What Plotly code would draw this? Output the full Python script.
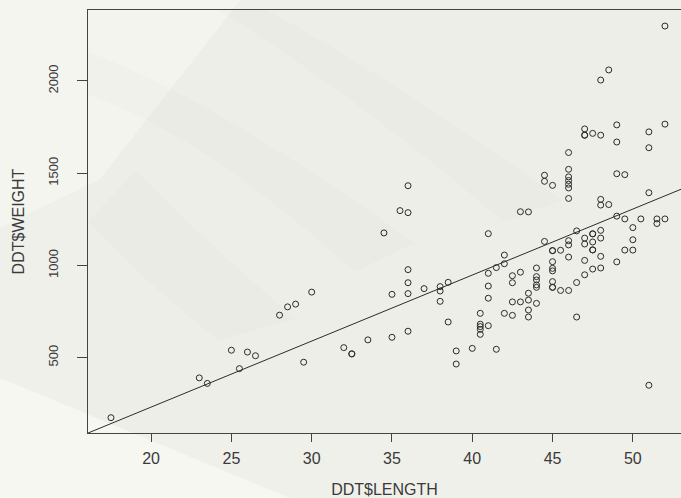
import plotly.graph_objects as go

# DDT fish sample: LENGTH (cm) vs WEIGHT (g)
length = [
    17.5, 23, 23.5, 25, 25.5, 26, 26.5, 28, 28.5, 29, 29.5, 30,
    32, 32.5, 32.5, 33.5, 34.5, 35, 35, 35.5, 36, 36, 36, 36, 36, 36,
    37, 38, 38, 38, 38.5, 38.5, 39, 39, 40,
    40.5, 40.5, 40.5, 40.5, 40.5, 41, 41, 41, 41, 41, 41.5, 41.5,
    42, 42, 42, 42.5, 42.5, 42.5, 42.5, 43, 43, 43, 43.5, 43.5, 43.5, 43.5, 43.5,
    44, 44, 44, 44, 44, 44, 44.5, 44.5, 44.5,
    45, 45, 45, 45, 45, 45, 45, 45, 45, 45.5, 45.5,
    46, 46, 46, 46, 46, 46, 46, 46, 46, 46, 46, 46.5, 46.5, 46.5,
    47, 47, 47, 47, 47, 47, 47, 47.5, 47.5, 47.5, 47.5, 47.5, 47.5, 47.5,
    48, 48, 48, 48, 48, 48, 48, 48, 48.5, 48.5,
    49, 49, 49, 49, 49, 49.5, 49.5, 49.5, 50, 50, 50, 50.5,
    51, 51, 51, 51, 51.5, 51.5, 52, 52, 52,
]
weight = [
    174, 390, 360, 540, 440, 530, 510, 730, 775, 790, 475, 855,
    554, 520, 520, 596, 1176, 610, 843, 1297, 1432, 1286, 977, 906, 847, 643,
    874, 885, 861, 805, 908, 693, 536, 465, 550,
    740, 681, 668, 653, 626, 673, 822, 888, 957, 1172, 988, 545,
    1009, 1056, 740, 944, 906, 802, 729, 963, 802, 1291, 1290, 849, 812, 758, 720,
    986, 939, 921, 894, 881, 794, 1489, 1456, 1130,
    1434, 1080, 1080, 1020, 984, 970, 912, 881, 881, 1082, 864,
    1612, 1521, 1480, 1460, 1440, 1420, 1363, 1134, 1111, 1045, 864, 1187, 907, 720,
    1740, 1706, 1706, 1148, 1116, 1027, 949, 1716, 1171, 1171, 1127, 1084, 1084, 980,
    2005, 1706, 1358, 1327, 1190, 1148, 1049, 986, 2060, 1330,
    1762, 1669, 1497, 1267, 1019, 1492, 1252, 1083, 1205, 1139, 1083, 1252,
    1724, 1638, 1394, 350, 1252, 1227, 2298, 1766, 1252,
]

# least-squares line WEIGHT ~ LENGTH
fit_intercept = -484.5
fit_slope = 35.8

x_range = [16.07, 53.0]
y_range = [91, 2385]
x_ticks = [20, 25, 30, 35, 40, 45, 50]
y_ticks = [500, 1000, 1500, 2000]

ink = "#2b2b2b"
text_col = "#3a3a3a"

fig = go.Figure()

fig.add_trace(go.Scatter(
    x=x_range,
    y=[fit_intercept + fit_slope * v for v in x_range],
    mode="lines",
    line=dict(color=ink, width=1),
    hoverinfo="skip",
))

fig.add_trace(go.Scatter(
    x=length, y=weight,
    mode="markers",
    marker=dict(symbol="circle-open", size=6, color=ink, line=dict(width=1, color=ink)),
))

# soft paper-like background tones
bg_shapes = [
    # lighter lower-left corner
    dict(path="M -0.2,0.16 L 0.42,-0.2 L -0.2,-0.2 Z", fillcolor="rgba(250,250,245,0.7)"),
    # lighter upper-left strip
    dict(path="M -0.2,1.1 L 0.3,1.1 L 0.02,0.6 L -0.2,0.45 Z", fillcolor="rgba(250,250,245,0.5)"),
    # faint darker streaks
    dict(path="M 0.0,0.9 Q 0.2,0.8 0.55,0.45 L 0.45,0.38 Q 0.2,0.7 0.0,0.8 Z", fillcolor="rgba(190,190,182,0.05)"),
    dict(path="M 0.3,1.0 Q 0.5,0.85 0.8,0.55 L 0.7,0.5 Q 0.45,0.8 0.22,1.0 Z", fillcolor="rgba(190,190,182,0.04)"),
    dict(path="M 0.0,0.5 Q 0.1,0.35 0.22,0.22 L 0.35,0.27 Q 0.2,0.45 0.08,0.62 Z", fillcolor="rgba(190,190,182,0.05)"),
]
shapes = []
for s in bg_shapes:
    shapes.append(dict(type="path", xref="paper", yref="paper", layer="below",
                       line=dict(width=0), **s))

fig.update_layout(
    width=681, height=498,
    margin=dict(l=88, r=0, t=10, b=65),
    paper_bgcolor="#f0f0eb",
    plot_bgcolor="rgba(236,236,231,0.6)",
    showlegend=False,
    shapes=shapes,
    font=dict(family="Liberation Sans, Arial, sans-serif", color=text_col),
    xaxis=dict(
        range=x_range, tickvals=x_ticks, showgrid=False, zeroline=False,
        showline=True, linecolor="#444", linewidth=1, mirror=True,
        ticks="outside", ticklen=8, tickcolor="#444", ticklabelstandoff=3,
        tickfont=dict(size=16, color=text_col),
        title=dict(text="DDT$LENGTH", font=dict(size=16, color=text_col), standoff=20),
    ),
    yaxis=dict(
        range=y_range, tickvals=y_ticks, showgrid=False, zeroline=False,
        showline=True, linecolor="#444", linewidth=1, mirror=False,
        ticks="outside", ticklen=10, tickcolor="#444", tickangle=-90,
        ticklabelstandoff=14,
        tickfont=dict(size=13, color=text_col),
        title=dict(text="DDT$WEIGHT", font=dict(size=16, color=text_col), standoff=17),
    ),
)

fig.write_html("out.html")
